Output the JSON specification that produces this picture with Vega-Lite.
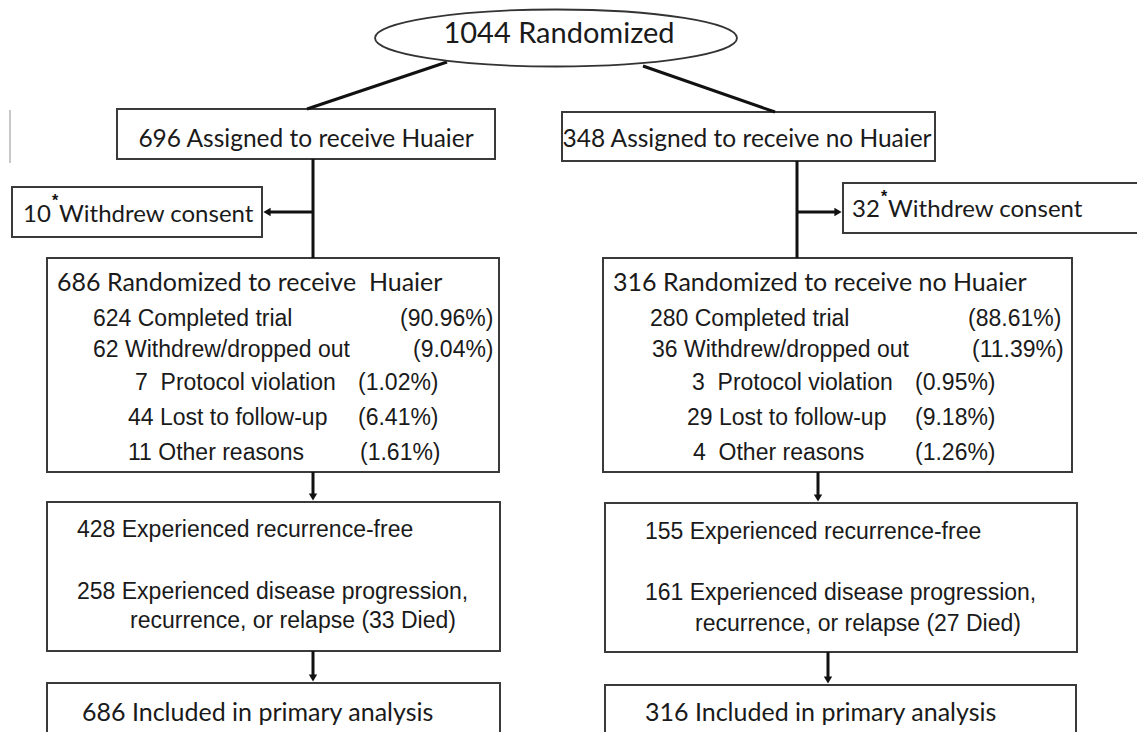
{
  "$schema": "https://vega.github.io/schema/vega-lite/v6.json",
  "width": 1137,
  "height": 732,
  "autosize": {"type": "fit", "contains": "padding"},
  "padding": 0,
  "background": "white",
  "config": {"view": {"stroke": null}},
  "datasets": {
    "boxes": [
      {"id": "assigned_huaier", "x": 117, "x2": 495, "y": 109, "y2": 159},
      {"id": "assigned_no", "x": 562, "x2": 935, "y": 112, "y2": 161},
      {"id": "withdrew_left", "x": 12, "x2": 262, "y": 187, "y2": 237},
      {"id": "withdrew_right", "x": 843, "x2": 1150, "y": 183, "y2": 233},
      {"id": "rand_huaier", "x": 47, "x2": 499, "y": 258, "y2": 472},
      {"id": "rand_no", "x": 603, "x2": 1072, "y": 258, "y2": 472},
      {"id": "outcome_huaier", "x": 47, "x2": 500, "y": 502, "y2": 651},
      {"id": "outcome_no", "x": 605, "x2": 1077, "y": 503, "y2": 652},
      {"id": "analysis_huaier", "x": 47, "x2": 500, "y": 683, "y2": 760},
      {"id": "analysis_no", "x": 605, "x2": 1076, "y": 685, "y2": 760}
    ],
    "ellipse": [{"x": 556, "y": 38}],
    "lines": [
      {"x": 447, "y": 62, "x2": 307, "y2": 109},
      {"x": 643, "y": 66, "x2": 775, "y2": 112},
      {"x": 313, "y": 159, "x2": 313, "y2": 258},
      {"x": 313, "y": 212, "x2": 268, "y2": 212},
      {"x": 797, "y": 161, "x2": 797, "y2": 258},
      {"x": 797, "y": 212, "x2": 836, "y2": 212},
      {"x": 313, "y": 472, "x2": 313, "y2": 495},
      {"x": 313, "y": 651, "x2": 313, "y2": 676},
      {"x": 818, "y": 472, "x2": 818, "y2": 496},
      {"x": 828, "y": 652, "x2": 828, "y2": 678}
    ],
    "arrows": [
      {"x": 267, "y": 212, "dir": "left"},
      {"x": 838, "y": 212, "dir": "right"},
      {"x": 313, "y": 497, "dir": "down"},
      {"x": 313, "y": 678, "dir": "down"},
      {"x": 818, "y": 498, "dir": "down"},
      {"x": 828, "y": 680, "dir": "down"}
    ],
    "titleText": [
      {"x": 559, "y": 43, "text": "1044 Randomized"}
    ],
    "centerText": [
      {"x": 306, "y": 147, "text": "696 Assigned to receive Huaier"},
      {"x": 747, "y": 147, "text": "348 Assigned to receive no Huaier"}
    ],
    "headText": [
      {"x": 57, "y": 291, "text": "686 Randomized to receive\u00a0\u00a0Huaier"},
      {"x": 613, "y": 291, "text": "316 Randomized to receive no Huaier"},
      {"x": 82, "y": 721, "text": "686 Included in primary analysis"},
      {"x": 645, "y": 721, "text": "316 Included in primary analysis"}
    ],
    "withdrewText": [
      {"x": 23, "y": 222, "text": "10"},
      {"x": 59, "y": 222, "text": "Withdrew consent"},
      {"x": 852, "y": 217, "text": "32"},
      {"x": 888, "y": 217, "text": "Withdrew consent"}
    ],
    "bodyText": [
      {"x": 93, "y": 326, "text": "624 Completed trial"},
      {"x": 400, "y": 326, "text": "(90.96%)"},
      {"x": 93, "y": 357, "text": "62 Withdrew/dropped out"},
      {"x": 413, "y": 357, "text": "(9.04%)"},
      {"x": 135, "y": 390, "text": "7\u00a0\u00a0Protocol violation"},
      {"x": 358, "y": 390, "text": "(1.02%)"},
      {"x": 128, "y": 425, "text": "44 Lost to follow-up"},
      {"x": 358, "y": 425, "text": "(6.41%)"},
      {"x": 128, "y": 460, "text": "11 Other reasons"},
      {"x": 360, "y": 460, "text": "(1.61%)"},
      {"x": 650, "y": 326, "text": "280 Completed trial"},
      {"x": 968, "y": 326, "text": "(88.61%)"},
      {"x": 652, "y": 357, "text": "36 Withdrew/dropped out"},
      {"x": 972, "y": 357, "text": "(11.39%)"},
      {"x": 692, "y": 390, "text": "3\u00a0\u00a0Protocol violation"},
      {"x": 915, "y": 390, "text": "(0.95%)"},
      {"x": 687, "y": 425, "text": "29 Lost to follow-up"},
      {"x": 915, "y": 425, "text": "(9.18%)"},
      {"x": 693, "y": 460, "text": "4\u00a0\u00a0Other reasons"},
      {"x": 915, "y": 460, "text": "(1.26%)"},
      {"x": 77, "y": 537, "text": "428 Experienced recurrence-free"},
      {"x": 77, "y": 599, "text": "258 Experienced disease progression,"},
      {"x": 130, "y": 628, "text": "recurrence, or relapse (33 Died)"},
      {"x": 645, "y": 539, "text": "155 Experienced recurrence-free"},
      {"x": 645, "y": 600, "text": "161 Experienced disease progression,"},
      {"x": 695, "y": 631, "text": "recurrence, or relapse (27 Died)"}
    ],
    "stars": [
      {"x": 55, "y": 206, "text": "*"},
      {"x": 884, "y": 202, "text": "*"}
    ],
    "artifact": [{"x": 10, "y": 110, "y2": 163}]
  },
  "layer": [
    {
      "data": {"name": "artifact"},
      "mark": {"type": "rule", "color": "#c8c8c8", "strokeWidth": 2},
      "encoding": {
        "x": {"field": "x", "type": "quantitative", "scale": {"domain": [0, 1137], "nice": false, "zero": false}, "axis": null},
        "y": {"field": "y", "type": "quantitative", "scale": {"domain": [0, 732], "reverse": true, "nice": false, "zero": false}, "axis": null},
        "y2": {"field": "y2"}
      }
    },
    {
      "data": {"name": "boxes"},
      "mark": {"type": "rect", "fill": "white", "stroke": "#3a3a3a", "strokeWidth": 2, "clip": true},
      "encoding": {
        "x": {"field": "x", "type": "quantitative"},
        "x2": {"field": "x2"},
        "y": {"field": "y", "type": "quantitative"},
        "y2": {"field": "y2"}
      }
    },
    {
      "data": {"name": "lines"},
      "mark": {"type": "rule", "color": "#111", "strokeWidth": 3},
      "encoding": {
        "x": {"field": "x", "type": "quantitative"},
        "x2": {"field": "x2"},
        "y": {"field": "y", "type": "quantitative"},
        "y2": {"field": "y2"}
      }
    },
    {
      "data": {"name": "ellipse"},
      "mark": {"type": "point", "shape": "M -1 0 A 1 0.1575 0 1 1 1 0 A 1 0.1575 0 1 1 -1 0 Z", "size": 131044, "filled": true, "fill": "white", "fillOpacity": 1, "opacity": 1, "stroke": "#333", "strokeWidth": 1.8},
      "encoding": {
        "x": {"field": "x", "type": "quantitative"},
        "y": {"field": "y", "type": "quantitative"}
      }
    },
    {
      "data": {"name": "arrows"},
      "mark": {"type": "point", "filled": true, "size": 70, "opacity": 1, "color": "#111"},
      "encoding": {
        "x": {"field": "x", "type": "quantitative"},
        "y": {"field": "y", "type": "quantitative"},
        "shape": {"field": "dir", "type": "nominal", "scale": {"domain": ["down", "left", "right"], "range": ["triangle-down", "triangle-left", "triangle-right"]}, "legend": null}
      }
    },
    {
      "data": {"name": "titleText"},
      "mark": {"type": "text", "font": "Lato", "fontSize": 29, "align": "center", "baseline": "alphabetic", "color": "#1a1a1a"},
      "encoding": {
        "x": {"field": "x", "type": "quantitative"},
        "y": {"field": "y", "type": "quantitative"},
        "text": {"field": "text"}
      }
    },
    {
      "data": {"name": "centerText"},
      "mark": {"type": "text", "font": "Lato", "fontSize": 24.5, "align": "center", "baseline": "alphabetic", "color": "#1a1a1a"},
      "encoding": {
        "x": {"field": "x", "type": "quantitative"},
        "y": {"field": "y", "type": "quantitative"},
        "text": {"field": "text"}
      }
    },
    {
      "data": {"name": "headText"},
      "mark": {"type": "text", "font": "Lato", "fontSize": 25, "align": "left", "baseline": "alphabetic", "color": "#1a1a1a"},
      "encoding": {
        "x": {"field": "x", "type": "quantitative"},
        "y": {"field": "y", "type": "quantitative"},
        "text": {"field": "text"}
      }
    },
    {
      "data": {"name": "withdrewText"},
      "mark": {"type": "text", "font": "Lato", "fontSize": 24, "align": "left", "baseline": "alphabetic", "color": "#1a1a1a"},
      "encoding": {
        "x": {"field": "x", "type": "quantitative"},
        "y": {"field": "y", "type": "quantitative"},
        "text": {"field": "text"}
      }
    },
    {
      "data": {"name": "bodyText"},
      "mark": {"type": "text", "font": "Liberation Sans", "fontSize": 23, "align": "left", "baseline": "alphabetic", "color": "#1a1a1a"},
      "encoding": {
        "x": {"field": "x", "type": "quantitative"},
        "y": {"field": "y", "type": "quantitative"},
        "text": {"field": "text"}
      }
    },
    {
      "data": {"name": "stars"},
      "mark": {"type": "text", "font": "Liberation Sans", "fontSize": 16, "fontWeight": "bold", "align": "center", "baseline": "alphabetic", "color": "#111"},
      "encoding": {
        "x": {"field": "x", "type": "quantitative"},
        "y": {"field": "y", "type": "quantitative"},
        "text": {"field": "text"}
      }
    }
  ]
}
